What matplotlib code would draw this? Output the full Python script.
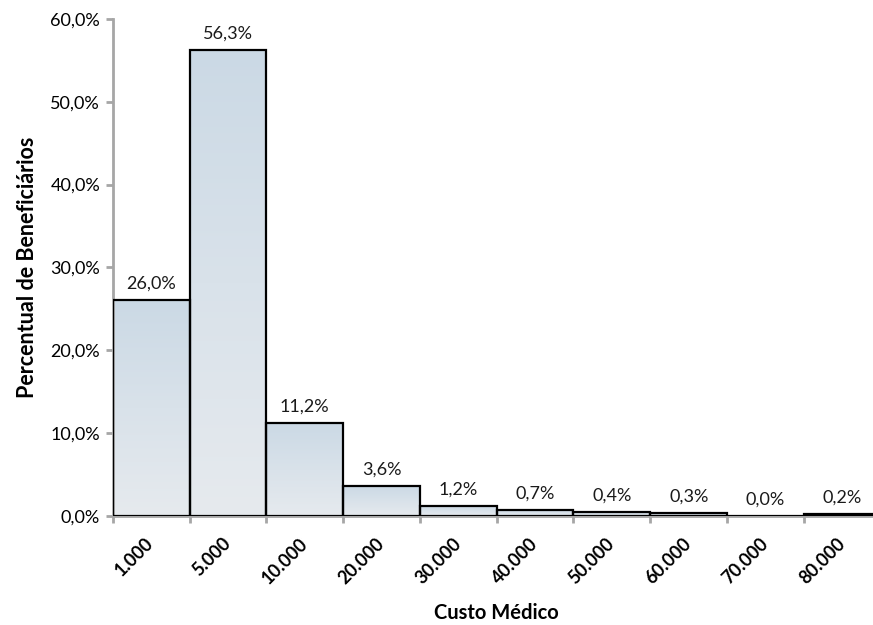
import numpy as np
import matplotlib
matplotlib.use("Agg")
import matplotlib.pyplot as plt
from matplotlib.colors import LinearSegmentedColormap

plt.rcParams['font.family'] = ['Lato', 'DejaVu Sans']

# faixas de custo medico e percentual de beneficiarios em cada faixa
faixas = ['1.000', '5.000', '10.000', '20.000', '30.000',
          '40.000', '50.000', '60.000', '70.000', '80.000']
percentual = [26.0, 56.3, 11.2, 3.6, 1.2, 0.7, 0.4, 0.3, 0.0, 0.2]

fig = plt.figure(figsize=(8.73, 6.25), dpi=100)
ax = fig.add_axes([0.1291, 0.1749, 0.8797, 0.7947])

x = np.arange(len(faixas))
bars = ax.bar(x, percentual, width=1.0, facecolor='none',
              edgecolor='black', linewidth=1.6, zorder=3)

# preenchimento em degrade dentro de cada barra
grad = LinearSegmentedColormap.from_list('g', ['#e6eaee', '#d9e2ea', '#cbd9e5'])
col = np.linspace(0, 1, 256).reshape(-1, 1)
for b in bars:
    h = b.get_height()
    if h <= 0:
        continue
    x0 = b.get_x()
    im = ax.imshow(col, cmap=grad, origin='lower', aspect='auto',
                   extent=(x0, x0 + b.get_width(), 0, h), zorder=2)
    im.set_clip_path(b)

for xi, v in zip(x, percentual):
    ax.annotate(f'{v:.1f}%'.replace('.', ','), (xi, v),
                xytext=(0, 6), textcoords='offset points',
                ha='center', va='bottom', fontsize=13, color='#1a1a1a')

ax.set_xlim(-0.5, len(faixas) - 0.5)
ax.set_ylim(0, 60)

ax.set_yticks(np.arange(0, 61, 10))
ax.set_yticklabels([f'{t:.1f}%'.replace('.', ',') for t in np.arange(0, 61, 10)],
                   fontsize=13)

# rotulos nas categorias, marcas de escala entre as barras
ax.set_xticks(x)
ax.set_xticklabels(faixas, rotation=45, ha='right', va='center',
                   rotation_mode='anchor', fontsize=13, fontweight='bold')
ax.tick_params(axis='x', which='major', length=0, pad=18)
ax.set_xticks(np.arange(-0.5, len(faixas)), minor=True)
ax.tick_params(axis='x', which='minor', length=5, width=2, color='#a6a6a6')
ax.tick_params(axis='y', length=5, width=2, color='#a6a6a6', pad=4)

for s in ['top', 'right']:
    ax.spines[s].set_visible(False)
for s in ['left', 'bottom']:
    ax.spines[s].set_color('#a6a6a6')
    ax.spines[s].set_linewidth(2)

ax.set_ylabel('Percentual de Beneficiários', fontsize=15.5, fontweight='bold',
              labelpad=9)
ax.set_xlabel('Custo Médico', fontsize=14.5, fontweight='bold', labelpad=12)

fig.savefig('out.png', dpi=100)
